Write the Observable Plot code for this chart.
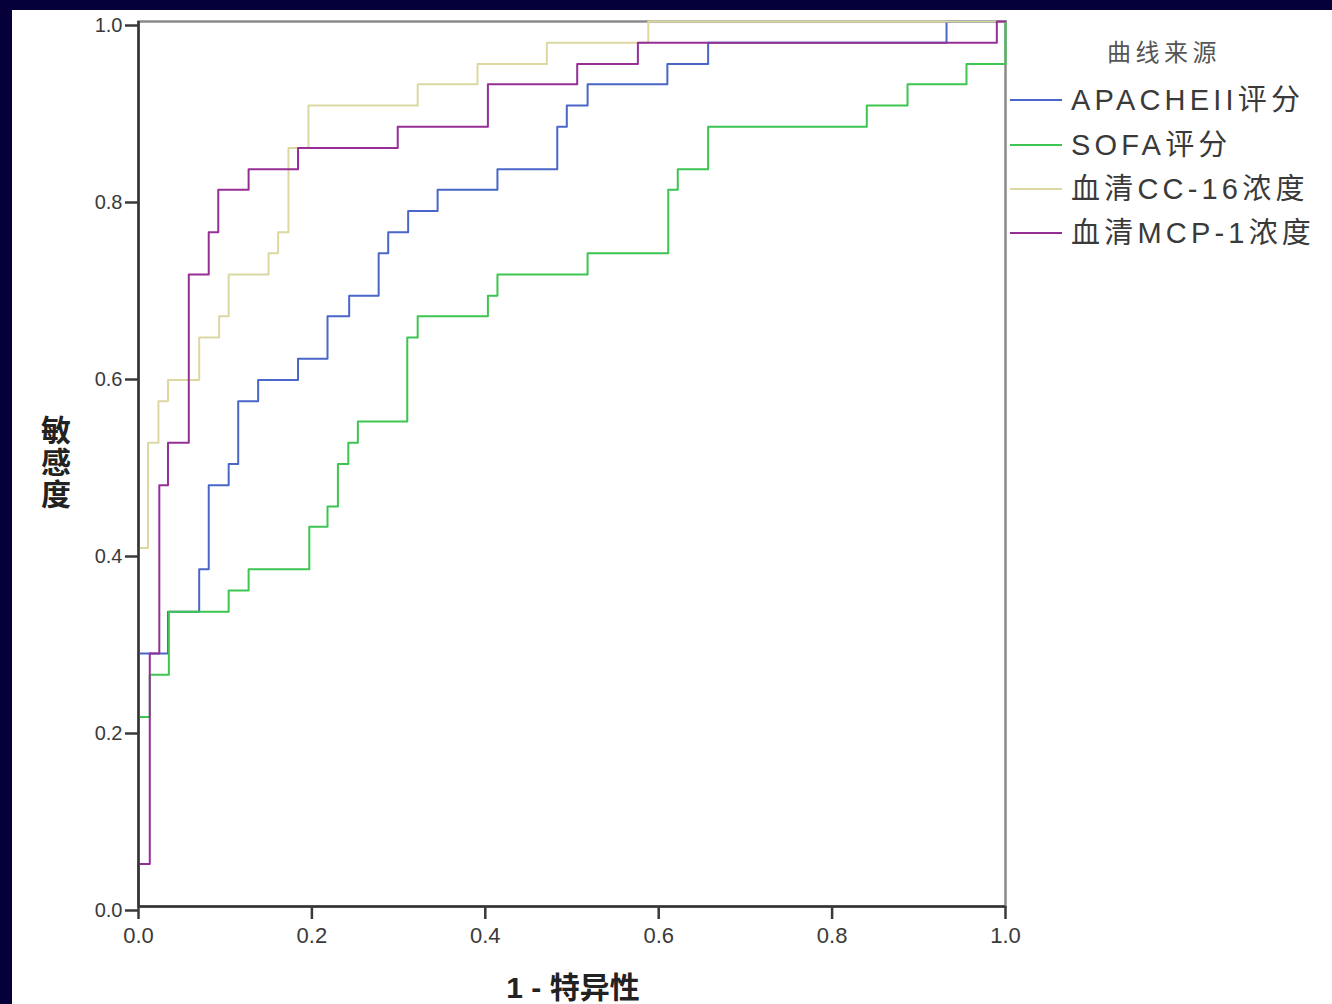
<!DOCTYPE html>
<html>
<head>
<meta charset="utf-8">
<script src="https://cdn.jsdelivr.net/npm/d3@7"></script>
<script src="https://cdn.jsdelivr.net/npm/@observablehq/plot@0.6"></script>
<style>
  html, body { margin: 0; padding: 0; }
  body { background: #05003a; width: 1332px; height: 1004px; overflow: hidden; position: relative; }
  #panel { position: absolute; left: 12px; top: 10px; width: 1320px; height: 994px; background: #fff; }
  #panel svg { position: absolute; left: 0; top: 0; }
  .lg-title { position: absolute; left: 1095px; top: 29px; font-family: "Noto Sans CJK SC", sans-serif; font-size: 24px; color: #555; letter-spacing: 4.5px; line-height: 1; }
  .lg-row { position: absolute; left: 998px; height: 30px; display: flex; align-items: center; font-family: "Liberation Sans", "Noto Sans CJK SC", sans-serif; font-size: 29px; color: #3a3a3a; letter-spacing: 4.2px; white-space: nowrap; line-height: 1; }
  .lg-sw { width: 52px; height: 2.5px; margin-right: 9px; }
  .xlabel { position: absolute; left: 488px; top: 963px; font-family: "Liberation Sans", "Noto Sans CJK SC", sans-serif; font-weight: 700; font-size: 30px; line-height: 1; color: #222; white-space: nowrap; }
  .ylabel { position: absolute; left: 27px; top: 405px; writing-mode: vertical-rl; text-orientation: upright; font-family: "Noto Sans CJK SC", sans-serif; font-weight: 700; font-size: 30px; line-height: 34px; letter-spacing: 2px; color: #222; }
</style>
</head>
<body>
<div id="panel"></div>
<script>
// ---- data: ROC curve vertices (1 - specificity, sensitivity) ----
const apacheFpr = [0, 0, 0.034, 0.070, 0.081, 0.104, 0.115, 0.138, 0.184, 0.218, 0.243, 0.277, 0.288, 0.311, 0.345, 0.414, 0.483, 0.494, 0.518, 0.610, 0.657, 0.932, 1];
const apacheTpr = [0, 0.286, 0.333, 0.381, 0.476, 0.500, 0.571, 0.595, 0.619, 0.667, 0.690, 0.738, 0.762, 0.786, 0.810, 0.833, 0.881, 0.905, 0.929, 0.952, 0.976, 1, 1];

const sofaFpr = [0, 0, 0.013, 0.035, 0.104, 0.127, 0.197, 0.218, 0.230, 0.242, 0.253, 0.310, 0.322, 0.403, 0.414, 0.518, 0.611, 0.622, 0.657, 0.840, 0.887, 0.955, 1];
const sofaTpr = [0, 0.214, 0.262, 0.333, 0.357, 0.381, 0.429, 0.452, 0.500, 0.524, 0.548, 0.643, 0.667, 0.690, 0.714, 0.738, 0.810, 0.833, 0.881, 0.905, 0.929, 0.952, 1];

const cc16Fpr = [0, 0, 0.011, 0.023, 0.034, 0.070, 0.093, 0.104, 0.150, 0.161, 0.173, 0.196, 0.322, 0.391, 0.471, 0.588, 1];
const cc16Tpr = [0, 0.405, 0.524, 0.571, 0.595, 0.643, 0.667, 0.714, 0.738, 0.762, 0.857, 0.905, 0.929, 0.952, 0.976, 1, 1];

const mcp1Fpr = [0, 0, 0.013, 0.024, 0.034, 0.058, 0.081, 0.092, 0.127, 0.184, 0.299, 0.403, 0.506, 0.576, 0.990, 1];
const mcp1Tpr = [0, 0.048, 0.286, 0.476, 0.524, 0.714, 0.762, 0.810, 0.833, 0.857, 0.881, 0.929, 0.952, 0.976, 1, 1];

const seriesNames = ["APACHEII评分", "SOFA评分", "血清CC-16浓度", "血清MCP-1浓度"];
const seriesColors = ["#4a66c8", "#3cc551", "#dcd8a2", "#952f96"];
const tickValues = [0, 0.2, 0.4, 0.6, 0.8, 1.0];
const xTitle = "1 - 特异性";
const yTitle = "敏感度";
const legendTitle = "曲线来源";

const toRows = (xs, ys) => xs.map((x, i) => ({x, y: ys[i]}));
const allSeries = [
  toRows(apacheFpr, apacheTpr),
  toRows(sofaFpr, sofaTpr),
  toRows(cc16Fpr, cc16Tpr),
  toRows(mcp1Fpr, mcp1Tpr)
];

const chart = Plot.plot({
  width: 1320,
  height: 994,
  marginLeft: 126,
  marginTop: 11,
  marginRight: 327,
  marginBottom: 98,
  style: {fontFamily: "'Liberation Sans', Arial, sans-serif", background: "transparent", overflow: "visible"},
  x: {domain: [0, 1]},
  y: {domain: [0, 1]},
  marks: [
    Plot.frame({stroke: "#8a8a8a", strokeWidth: 2.5}),
    ...allSeries.map((rows, i) => Plot.line(rows, {x: "x", y: "y", stroke: seriesColors[i], strokeWidth: 2, curve: "step-after"})),
    Plot.ruleX([0], {stroke: "#333", strokeWidth: 2.5}),
    Plot.ruleY([0], {stroke: "#333", strokeWidth: 2.5}),
    Plot.axisX({ticks: tickValues, tickFormat: d3.format(".1f"), tickSize: 13, tickPadding: 8, strokeWidth: 2.5, fontSize: 22, color: "#3a3a3a", label: null}),
    Plot.axisY({ticks: tickValues, tickFormat: d3.format(".1f"), tickSize: 13, tickPadding: 3, strokeWidth: 2.5, fontSize: 20, color: "#3a3a3a", dy: 4, label: null})
  ]
});

const panel = document.getElementById("panel");
panel.appendChild(chart);

// axis titles
const xl = document.createElement("div");
xl.className = "xlabel";
xl.textContent = xTitle;
panel.appendChild(xl);

const yl = document.createElement("div");
yl.className = "ylabel";
yl.textContent = yTitle;
panel.appendChild(yl);

// legend
const lt = document.createElement("div");
lt.className = "lg-title";
lt.textContent = legendTitle;
panel.appendChild(lt);

const rowCenters = [90, 135, 179, 223];
seriesNames.forEach((name, i) => {
  const row = document.createElement("div");
  row.className = "lg-row";
  row.style.top = (rowCenters[i] - 15) + "px";
  const sw = document.createElement("div");
  sw.className = "lg-sw";
  sw.style.background = seriesColors[i];
  const tx = document.createElement("span");
  tx.textContent = name;
  row.appendChild(sw);
  row.appendChild(tx);
  panel.appendChild(row);
});

// center x label under plot area
const w = xl.getBoundingClientRect().width;
xl.style.left = (561 - w / 2) + "px";
</script>
</body>
</html>
